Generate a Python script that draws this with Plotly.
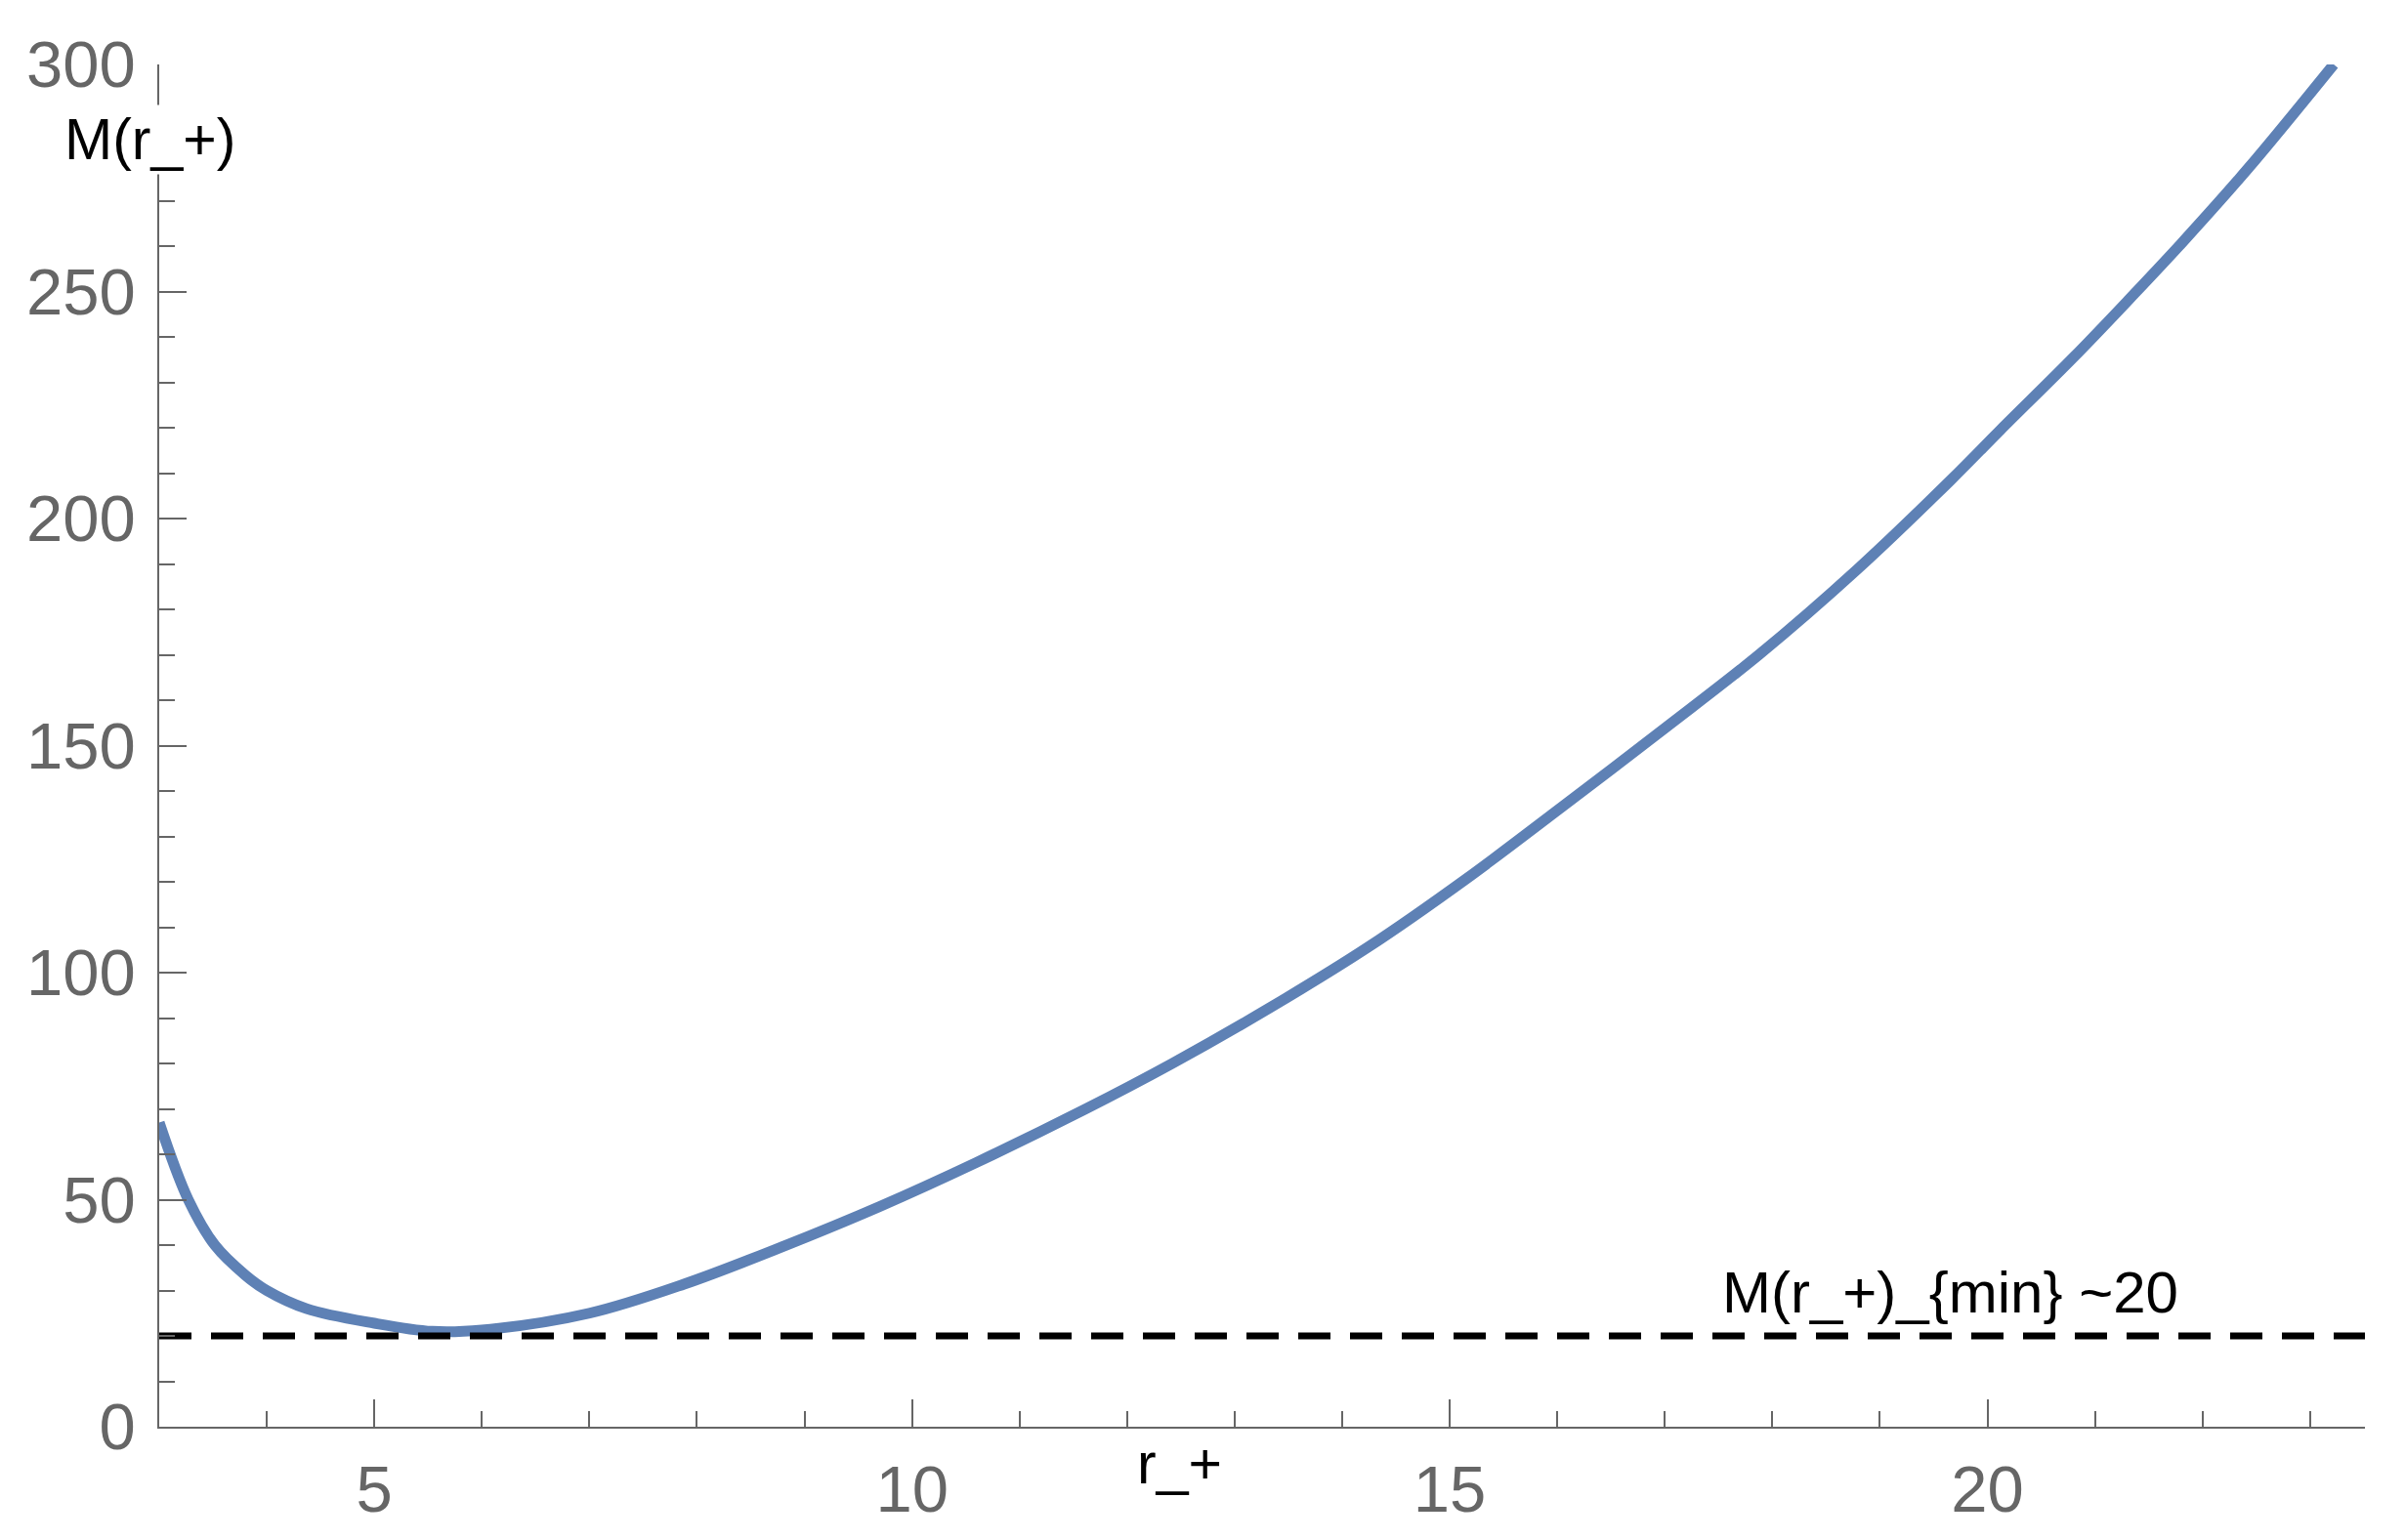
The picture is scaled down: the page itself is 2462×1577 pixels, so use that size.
import plotly.graph_objects as go

# Data
r_plus = [3.0, 3.27, 3.52, 3.8, 4.0, 4.37, 5.0, 5.54, 6.0, 7.0, 7.88, 8.79, 9.7,
          10.6, 11.6, 12.42, 13.33, 14.24, 15.15, 16.06, 17.01, 17.88, 18.78,
          19.66, 20.12, 20.8, 21.33, 21.8, 22.42, 23.22]
mass = [67.0, 50.0, 39.9, 33.4, 30.0, 26.0, 22.8, 21.0, 21.3, 25.0, 31.4, 39.6, 48.5,
        58.2, 69.8, 80.0, 92.3, 105.6, 120.6, 136.8, 154.0, 170.1, 188.6,
        208.5, 219.5, 235.5, 248.6, 260.5, 277.0, 300.0]
m_min = 20
x_range = [3, 23.51]
y_range = [0, 300]
x_ticks = [5, 10, 15, 20]
y_ticks = [0, 50, 100, 150, 200, 250, 300]

AX = "#666666"
FONT = "Liberation Sans, Arial, sans-serif"

fig = go.Figure()
fig.add_trace(go.Scatter(
    x=r_plus, y=mass, mode="lines",
    line=dict(color="#5E81B5", width=11, shape="spline", smoothing=1.0),
    hoverinfo="skip"))
fig.add_trace(go.Scatter(
    x=x_range, y=[m_min, m_min], mode="lines",
    line=dict(color="black", width=7, dash="33px,20px"),
    hoverinfo="skip"))

fig.update_layout(
    width=2454, height=1569,
    margin=dict(l=155, r=41, t=58, b=116, autoexpand=False),
    paper_bgcolor="white", plot_bgcolor="white",
    showlegend=False,
    font=dict(family=FONT, color="black"),
    xaxis=dict(
        range=x_range, tickvals=x_ticks, ticktext=[str(v) for v in x_ticks],
        showgrid=False, zeroline=False, automargin=False,
        showline=True, linecolor=AX, linewidth=1.5,
        ticks="inside", ticklen=28, tickwidth=1.5, tickcolor=AX,
        minor=dict(dtick=1, tick0=0, ticks="inside", ticklen=16, tickwidth=1.5,
                   tickcolor=AX, showgrid=False),
        tickfont=dict(family=FONT, size=67, color=AX),
        ticklabelstandoff=5,
    ),
    yaxis=dict(
        range=y_range, tickvals=y_ticks, ticktext=[str(v) for v in y_ticks],
        showgrid=False, zeroline=False, automargin=False,
        showline=True, linecolor=AX, linewidth=1.5,
        ticks="inside", ticklen=28, tickwidth=1.5, tickcolor=AX,
        minor=dict(dtick=10, tick0=0, ticks="inside", ticklen=16, tickwidth=1.5,
                   tickcolor=AX, showgrid=False),
        tickfont=dict(family=FONT, size=67, color=AX),
        ticklabelstandoff=9,
    ),
    annotations=[
        dict(text="M(r_+)", x=-0.004, y=0.9448, xref="paper", yref="paper",
             showarrow=False, xanchor="center", yanchor="middle",
             font=dict(family=FONT, size=59, color="black"),
             bgcolor="white", borderpad=2),
        dict(text="r_+", x=0.4626, y=-0.027, xref="paper", yref="paper",
             showarrow=False, xanchor="center", yanchor="middle",
             font=dict(family=FONT, size=59, color="black")),
        dict(text="M(r_+)_{min} ~20", x=19.65, y=29.6, xref="x", yref="y",
             showarrow=False, xanchor="center", yanchor="middle",
             font=dict(family=FONT, size=60, color="black")),
    ],
)

fig.write_html("out.html")
